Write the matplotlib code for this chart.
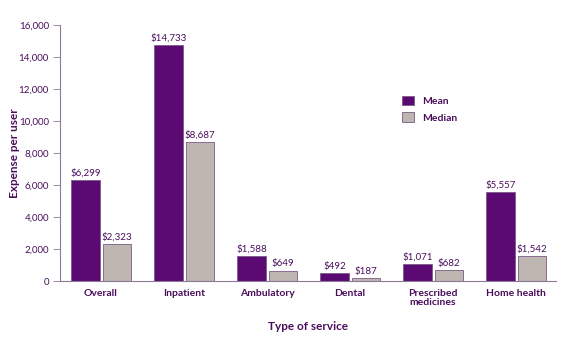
import matplotlib
matplotlib.use("Agg")
import matplotlib.pyplot as plt
import numpy as np

categories = ["Overall", "Inpatient", "Ambulatory", "Dental", "Prescribed\nmedicines", "Home health"]
mean_values = [6299, 14733, 1588, 492, 1071, 5557]
median_values = [2323, 8687, 649, 187, 682, 1542]
yticks = [0, 2000, 4000, 6000, 8000, 10000, 12000, 14000, 16000]

plt.rcParams['font.family'] = ['Lato', 'DejaVu Sans']
txt = '#4a0e5c'
c_mean = '#5b0a74'
c_med = '#bdb6b1'
edge = '#7a5a86'

fig = plt.figure(figsize=(5.77, 3.38), dpi=100)
ax = fig.add_axes([0.104, 0.1686, 0.8596, 0.7574])

x = np.arange(len(categories))
w = 0.34
off = 0.5 * w + 0.018
ax.bar(x - off, mean_values, w, color=c_mean, edgecolor=edge, linewidth=0.6, label='Mean')
ax.bar(x + off, median_values, w, color=c_med, edgecolor=edge, linewidth=0.6, label='Median')

for xi, v in zip(x - off, mean_values):
    ax.text(xi, v + 150, f"${v:,}", ha='center', va='bottom', fontsize=7, color=txt)
for xi, v in zip(x + off, median_values):
    ax.text(xi, v + 150, f"${v:,}", ha='center', va='bottom', fontsize=7, color=txt)

ax.set_xlim(-0.494, 5.48)
ax.set_ylim(0, 16000)
ax.set_yticks(yticks)
ax.set_yticklabels([f"{t:,}" for t in yticks], fontsize=7, color=txt)
ax.set_xticks(x)
ax.set_xticklabels(categories, fontsize=7.5, fontweight='bold', color=txt, linespacing=0.95)
ax.tick_params(axis='x', length=0, pad=6)
ax.tick_params(axis='y', length=5, width=0.6, color='#8a7a96', pad=3)

for s in ['top', 'right']:
    ax.spines[s].set_visible(False)
ax.spines['left'].set_color('#8a7a96')
ax.spines['bottom'].set_color('#8a7a96')
ax.spines['left'].set_linewidth(0.8)
ax.spines['bottom'].set_linewidth(0.8)

ax.set_ylabel('Expense per user', fontsize=8.5, fontweight='bold', color=txt)
ax.yaxis.set_label_coords(-0.08, 0.5)
ax.set_xlabel('Type of service', fontsize=8.5, fontweight='bold', color=txt)
ax.xaxis.set_label_coords(0.5, -0.155)

leg = ax.legend(loc='upper left', bbox_to_anchor=(0.67, 0.76), frameon=False,
                fontsize=7.5, handlelength=1.2, handleheight=1.0, labelspacing=0.6,
                handletextpad=0.8)
for t in leg.get_texts():
    t.set_color(txt)
    t.set_fontweight('bold')

fig.savefig('out.png', dpi=100)
